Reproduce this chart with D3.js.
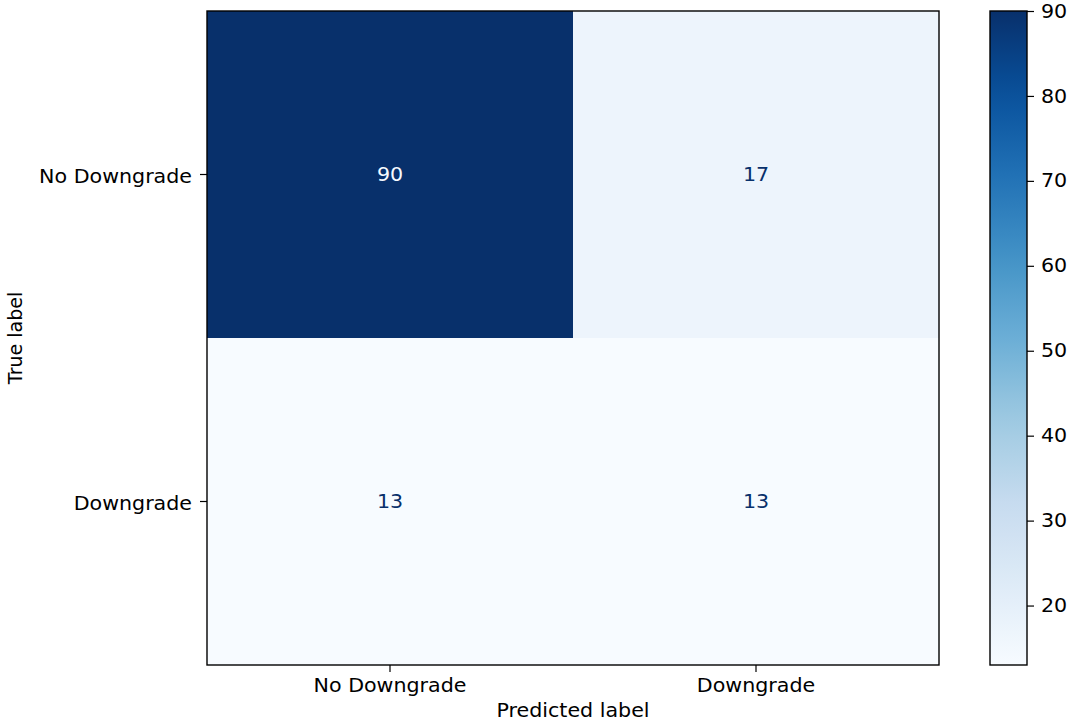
<!DOCTYPE html>
<html>
<head>
<meta charset="utf-8">
<script src="https://cdn.jsdelivr.net/npm/d3@7"></script>
<style>
  html, body { margin: 0; padding: 0; background: #fff; }
  svg text { font-family: "DejaVu Sans", sans-serif; }
</style>
</head>
<body>
<svg id="chart" width="1070" height="722"></svg>
<script>
// Confusion matrix data
const trueLabels = ["No Downgrade", "Downgrade"];
const predictedLabels = ["No Downgrade", "Downgrade"];
const counts = [
  [90, 17],
  [13, 13]
];
const colorbarTicks = [20, 30, 40, 50, 60, 70, 80, 90];

const svg = d3.select("#chart");
const fontSize = 19;
const widen = 1.085; // horizontal glyph stretch of the figure's text

// Plot area
const plot = { left: 207, top: 11, right: 939, bottom: 665 };
const cbar = { left: 990, right: 1027, top: 11, bottom: 665 };

// matplotlib "Blues" ramp
const bluesStops = ["#f7fbff", "#deebf7", "#c6dbef", "#9ecae1", "#6baed6",
                    "#4292c6", "#2171b5", "#08519c", "#08306b"];
const blues = d3.scaleLinear()
  .domain(d3.range(bluesStops.length).map(i => i / (bluesStops.length - 1)))
  .range(bluesStops)
  .interpolate(d3.interpolateRgb);

const flat = counts.flat();
const vmin = d3.min(flat), vmax = d3.max(flat);
const norm = d3.scaleLinear().domain([vmin, vmax]).range([0, 1]);
const color = v => blues(norm(v));

const x = d3.scaleBand().domain(predictedLabels).range([plot.left, plot.right]);
const y = d3.scaleBand().domain(trueLabels).range([plot.top, plot.bottom]);

// Place a text at (px, py) with horizontally stretched glyphs
function placeText(sel, px, py) {
  sel.attr("x", 0).attr("y", 0)
    .attr("transform", (d, i, n) => `translate(${px(d, i, n)},${py(d, i, n)}) scale(${widen},1)`);
}

// Cells
const cells = [];
trueLabels.forEach((t, i) => predictedLabels.forEach((p, j) => cells.push({ t, p, v: counts[i][j] })));

svg.append("g").selectAll("rect").data(cells).join("rect")
  .attr("x", d => x(d.p))
  .attr("y", d => y(d.t))
  .attr("width", x.bandwidth())
  .attr("height", y.bandwidth())
  .attr("fill", d => color(d.v));

// Cell annotations: light text on dark cells, dark text on light ones
const thresh = (vmax + vmin) / 2;
svg.append("g").selectAll("text").data(cells).join("text")
  .call(placeText, d => x(d.p) + x.bandwidth() / 2, d => y(d.t) + y.bandwidth() / 2)
  .attr("text-anchor", "middle")
  .attr("dominant-baseline", "central")
  .attr("font-size", fontSize)
  .attr("fill", d => d.v < thresh ? blues(1) : blues(0))
  .text(d => d.v);

// Axes
const xAxis = svg.append("g")
  .attr("transform", `translate(0,${plot.bottom})`)
  .call(d3.axisBottom(x).tickSize(7).tickPadding(7));
const yAxis = svg.append("g")
  .attr("transform", `translate(${plot.left},0)`)
  .call(d3.axisLeft(y).tickSize(7).tickPadding(8));
[xAxis, yAxis].forEach(g => {
  g.select(".domain").remove();
  g.selectAll("line").attr("stroke", "#000").attr("stroke-width", 1.2);
  g.selectAll("text").attr("font-size", fontSize).attr("fill", "#000")
    .style("font-family", "DejaVu Sans, sans-serif");
});
xAxis.selectAll("text").attr("transform", `scale(${widen},1)`);
yAxis.selectAll("text").each(function () {
  const t = d3.select(this);
  const ox = +t.attr("x");
  t.attr("x", ox / widen).attr("y", 2).attr("transform", `scale(${widen},1)`);
});

// Frame around the matrix
svg.append("rect")
  .attr("x", plot.left).attr("y", plot.top)
  .attr("width", plot.right - plot.left).attr("height", plot.bottom - plot.top)
  .attr("fill", "none").attr("stroke", "#000").attr("stroke-width", 1.4);

// Axis titles
svg.append("text")
  .attr("transform", `translate(${(plot.left + plot.right) / 2},717) scale(${widen},1)`)
  .attr("text-anchor", "middle")
  .attr("font-size", fontSize)
  .text("Predicted label");

svg.append("text")
  .attr("transform", `translate(22,${(plot.top + plot.bottom) / 2}) rotate(-90)`)
  .attr("text-anchor", "middle")
  .attr("font-size", fontSize)
  .text("True label");

// Colorbar
const defs = svg.append("defs");
const grad = defs.append("linearGradient")
  .attr("id", "cbarGrad")
  .attr("x1", 0).attr("y1", 1).attr("x2", 0).attr("y2", 0);
d3.range(0, 1.0001, 0.05).forEach(o => {
  grad.append("stop").attr("offset", o).attr("stop-color", blues(o));
});

svg.append("rect")
  .attr("x", cbar.left).attr("y", cbar.top)
  .attr("width", cbar.right - cbar.left).attr("height", cbar.bottom - cbar.top)
  .attr("fill", "url(#cbarGrad)")
  .attr("stroke", "#000").attr("stroke-width", 1.4);

const cy = d3.scaleLinear().domain([vmin, vmax]).range([cbar.bottom, cbar.top]);
const cAxis = svg.append("g")
  .attr("transform", `translate(${cbar.right},0)`)
  .call(d3.axisRight(cy).tickValues(colorbarTicks).tickSize(7).tickPadding(7));
cAxis.select(".domain").remove();
cAxis.selectAll("line").attr("stroke", "#000").attr("stroke-width", 1.2);
cAxis.selectAll("text").attr("font-size", fontSize).attr("fill", "#000")
  .style("font-family", "DejaVu Sans, sans-serif")
  .each(function () {
    const t = d3.select(this);
    t.attr("x", +t.attr("x") / widen).attr("transform", `scale(${widen},1)`);
  });
</script>
</body>
</html>
